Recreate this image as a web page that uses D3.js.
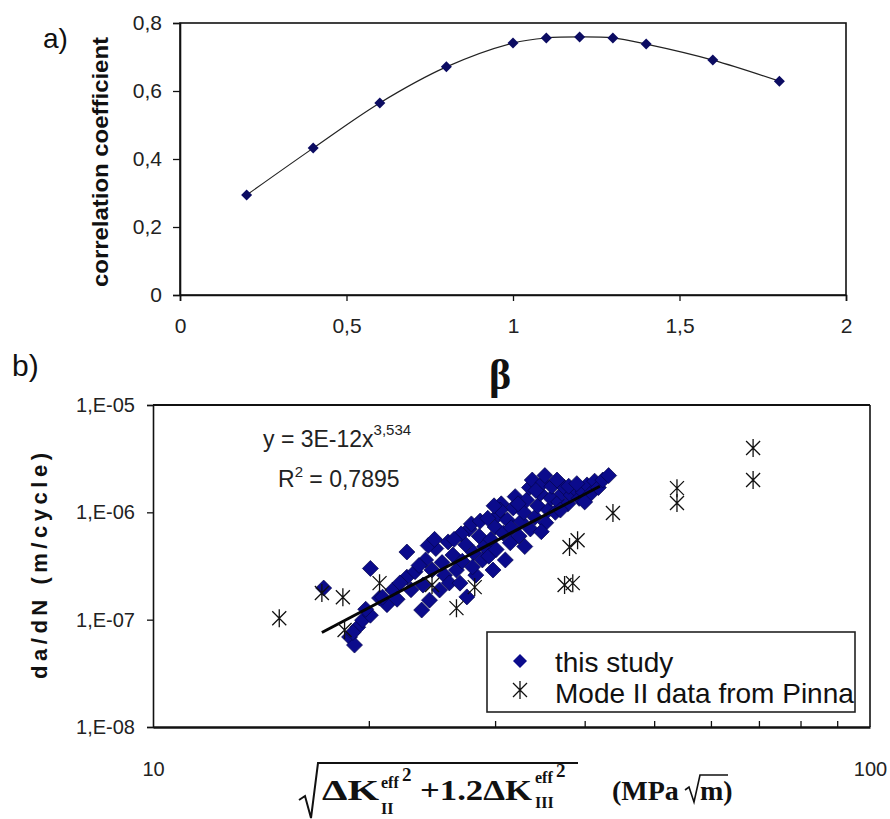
<!DOCTYPE html>
<html>
<head>
<meta charset="utf-8">
<script src="https://cdn.jsdelivr.net/npm/d3@7"></script>
<style>
  body { margin: 0; background: #fff; }
  svg { display: block; }
</style>
</head>
<body>
<script>
// a) correlation coefficient vs beta
var betaValues = [0.2, 0.4, 0.6, 0.8, 1.0, 1.1, 1.2, 1.3, 1.4, 1.6, 1.8];
var corrValues = [0.294, 0.432, 0.565, 0.671, 0.741, 0.756, 0.759, 0.756, 0.738, 0.691, 0.629];
var betaTicks = [0, 0.5, 1, 1.5, 2];
var corrTicks = [0, 0.2, 0.4, 0.6, 0.8];

// b) da/dN vs effective delta K  [K (MPa sqrt m), da/dN (m/cycle)]
var studyData = [
  [17.3, 1.97e-7], [18.8, 6.9e-8], [19.1, 5.8e-8], [19.3, 8.5e-8], [19.6, 9.9e-8],
  [19.0, 7.6e-8], [20.1, 1.1e-7], [20.1, 3.0e-7], [19.8, 1.25e-7],
  [20.7, 1.59e-7], [21.2, 1.38e-7], [20.9, 1.62e-7], [21.6, 1.89e-7], [22.6, 2.49e-7],
  [22.6, 4.27e-7], [22.1, 2.2e-7], [21.9, 1.55e-7], [22.9, 1.9e-7], [23.2, 2.8e-7],
  [23.7, 1.23e-7], [24.3, 1.52e-7], [23.8, 2.1e-7], [25.1, 1.89e-7], [25.5, 2.6e-7],
  [24.0, 3.6e-7], [24.5, 2.9e-7], [24.8, 4.6e-7], [25.3, 3.4e-7], [25.8, 5.3e-7],
  [24.2, 4.9e-7], [25.9, 2.2e-7], [26.2, 4.0e-7], [23.5, 3.2e-7], [24.7, 5.6e-7],
  [26.5, 2.9e-7], [26.8, 2.19e-7], [27.4, 1.63e-7], [27.0, 3.5e-7], [27.3, 5.0e-7],
  [27.6, 7.0e-7], [28.0, 4.2e-7], [28.2, 2.6e-7], [28.5, 6.0e-7], [28.8, 3.6e-7],
  [26.9, 6.3e-7], [27.8, 7.8e-7], [28.6, 8.3e-7], [29.0, 4.8e-7], [26.3, 5.6e-7],
  [27.9, 3.1e-7],
  [29.8, 2.9e-7], [29.4, 3.9e-7], [29.6, 5.6e-7], [30.0, 7.3e-7], [30.3, 9.5e-7],
  [30.6, 1.2e-6], [30.1, 4.5e-7], [30.8, 6.4e-7], [31.2, 8.5e-7], [31.5, 5.2e-7],
  [31.0, 3.6e-7], [31.8, 1.1e-6], [29.3, 8.8e-7], [30.5, 1.05e-6], [31.6, 7.2e-7],
  [32.0, 1.4e-6], [29.9, 1.15e-6],
  [32.4, 6.0e-7], [32.6, 8.2e-7], [32.9, 1.0e-6], [33.2, 1.3e-6], [33.5, 1.7e-6],
  [33.8, 2.0e-6], [33.0, 4.8e-7], [33.6, 7.0e-7], [34.1, 9.0e-7], [34.4, 1.15e-6],
  [34.7, 1.5e-6], [35.0, 1.9e-6], [35.3, 8.0e-7], [35.6, 1.05e-6], [35.9, 1.35e-6],
  [34.2, 1.6e-6], [32.3, 1.2e-6], [35.2, 2.2e-6], [36.0, 1.75e-6], [34.8, 6.6e-7],
  [36.4, 1.0e-6], [36.8, 1.25e-6], [37.2, 1.5e-6], [37.5, 1.7e-6], [37.9, 1.2e-6],
  [38.3, 1.45e-6], [38.8, 1.65e-6], [39.3, 1.35e-6], [39.8, 1.55e-6], [40.3, 1.8e-6],
  [40.8, 1.5e-6], [41.3, 1.95e-6], [41.8, 1.7e-6], [42.4, 2.0e-6], [43.2, 2.2e-6],
  [36.6, 2.0e-6], [38.0, 1.75e-6], [39.0, 1.85e-6], [37.0, 1.05e-6], [40.0, 1.25e-6]
];
var pinnaData = [
  [15.0, 1.03e-7], [17.2, 1.77e-7], [18.4, 1.62e-7], [18.5, 8.0e-8], [20.7, 2.19e-7],
  [24.5, 2.1e-7], [26.5, 1.28e-7], [28.1, 2.01e-7], [37.5, 2.1e-7], [38.5, 2.19e-7],
  [38.1, 4.75e-7], [39.1, 5.5e-7], [43.8, 9.85e-7], [53.8, 1.68e-6], [53.8, 1.22e-6],
  [68.7, 3.97e-6], [68.7, 2.0e-6]
];
var trendK = [17.2, 42.0];
var trendRate = [7.6e-8, 1.75e-6];
var rateTicks = [1e-8, 1e-7, 1e-6, 1e-5];
var rateLabels = ["1,E-08", "1,E-07", "1,E-06", "1,E-05"];
var kTicks = [10, 100];
var kMinorTicks = [20, 30, 40, 50, 60, 70, 80, 90];

var sans = "'Liberation Sans', Arial, sans-serif";
var serif = "'Liberation Serif', 'Times New Roman', serif";

var svg = d3.select("body").append("svg")
    .attr("width", 890)
    .attr("height", 819);

svg.append("rect").attr("width", 890).attr("height", 819).attr("fill", "#fff");

function diamond(r) {
  return "M0," + (-r) + "L" + r + ",0L0," + r + "L" + (-r) + ",0Z";
}
var starPath = "M0,-9V9M-7,-7L7,7M-7,7L7,-7";

function comma(d) { return String(d).replace(".", ","); }

// ---------- chart a ----------
var xA = d3.scaleLinear().domain([0, 2]).range([180, 846]);
var yA = d3.scaleLinear().domain([0, 0.8]).range([295, 23]);

svg.append("rect")
    .attr("x", xA(0)).attr("y", yA(0.8))
    .attr("width", xA(2) - xA(0)).attr("height", yA(0) - yA(0.8))
    .attr("fill", "none").attr("stroke", "#111").attr("stroke-width", 1.6);

var axA = svg.append("g")
    .attr("transform", "translate(0," + yA(0) + ")")
    .call(d3.axisBottom(xA).tickValues(betaTicks).tickSize(6).tickPadding(17).tickFormat(comma));
var ayA = svg.append("g")
    .attr("transform", "translate(" + xA(0) + ",0)")
    .call(d3.axisLeft(yA).tickValues(corrTicks).tickSize(7).tickPadding(11).tickFormat(comma));

[axA, ayA].forEach(function(g) {
  g.select(".domain").attr("stroke", "#111").attr("stroke-width", 1.6);
  g.selectAll(".tick line").attr("stroke", "#111").attr("stroke-width", 1.3);
  g.selectAll(".tick text").attr("font-family", sans).attr("font-size", 21).attr("fill", "#222");
});

var lineA = d3.line()
    .x(function(d, i) { return xA(betaValues[i]); })
    .y(function(d) { return yA(d); })
    .curve(d3.curveCatmullRom);

svg.append("path")
    .attr("d", lineA(corrValues))
    .attr("fill", "none")
    .attr("stroke", "#222")
    .attr("stroke-width", 1.2);

svg.selectAll(".ptA")
    .data(corrValues)
  .enter().append("path")
    .attr("class", "ptA")
    .attr("d", diamond(5.5))
    .attr("transform", function(d, i) { return "translate(" + xA(betaValues[i]) + "," + yA(d) + ")"; })
    .attr("fill", "#0c0c62");

svg.append("text")
    .attr("transform", "translate(108,162) rotate(-90)")
    .attr("text-anchor", "middle")
    .attr("font-family", sans).attr("font-weight", "bold").attr("font-size", 22)
    .attr("textLength", 250).attr("lengthAdjust", "spacingAndGlyphs")
    .attr("fill", "#111")
    .text("correlation coefficient");

svg.append("text")
    .attr("x", 43).attr("y", 48)
    .attr("font-family", sans).attr("font-size", 28).attr("fill", "#111")
    .text("a)");

svg.append("text")
    .attr("x", 500).attr("y", 389)
    .attr("text-anchor", "middle")
    .attr("font-family", serif).attr("font-weight", "bold").attr("font-size", 42)
    .attr("fill", "#111")
    .text("β");

// ---------- chart b ----------
var xB = d3.scaleLog().domain([10, 100]).range([153, 870]);
var yB = d3.scaleLog().domain([1e-8, 1e-5]).range([727, 405]);

svg.append("text")
    .attr("x", 12).attr("y", 376)
    .attr("font-family", sans).attr("font-size", 30).attr("fill", "#111")
    .text("b)");

// frame top / right
svg.append("line")
    .attr("x1", xB(10)).attr("x2", xB(100)).attr("y1", yB(1e-5)).attr("y2", yB(1e-5))
    .attr("stroke", "#111").attr("stroke-width", 2.2);
svg.append("line")
    .attr("x1", xB(100)).attr("x2", xB(100)).attr("y1", yB(1e-5)).attr("y2", yB(1e-8))
    .attr("stroke", "#111").attr("stroke-width", 1.6);

var ayB = svg.append("g")
    .attr("transform", "translate(" + xB(10) + ",0)")
    .call(d3.axisLeft(yB).tickValues(rateTicks).tickSize(6).tickPadding(12)
      .tickFormat(function(d, i) { return rateLabels[i]; }));
ayB.select(".domain").attr("stroke", "#111").attr("stroke-width", 1.6);
ayB.selectAll(".tick line").attr("stroke", "#111").attr("stroke-width", 1.3);
ayB.selectAll(".tick text").attr("font-family", sans).attr("font-size", 20).attr("fill", "#222");

var minorB = svg.append("g")
    .attr("transform", "translate(0," + yB(1e-8) + ")")
    .call(d3.axisBottom(xB).tickValues(kMinorTicks).tickSizeInner(-6).tickSizeOuter(0).tickFormat(""));
minorB.select(".domain").remove();
minorB.selectAll(".tick line").attr("stroke", "#111").attr("stroke-width", 1.3);

var axB = svg.append("g")
    .attr("transform", "translate(0," + yB(1e-8) + ")")
    .call(d3.axisBottom(xB).tickValues(kTicks).tickSize(0).tickPadding(35)
      .tickFormat(function(d) { return String(d); }));
axB.select(".domain").attr("stroke", "#111").attr("stroke-width", 2.6);
axB.selectAll(".tick text").attr("font-family", sans).attr("font-size", 20).attr("fill", "#222");

// this study points
svg.selectAll(".study")
    .data(studyData)
  .enter().append("path")
    .attr("class", "study")
    .attr("d", diamond(8))
    .attr("transform", function(d) { return "translate(" + xB(d[0]) + "," + yB(d[1]) + ")"; })
    .attr("fill", "#0b0b8c")
    .attr("stroke", "#05054a")
    .attr("stroke-width", 0.7);

// power trend line
svg.append("line")
    .attr("x1", xB(trendK[0])).attr("y1", yB(trendRate[0]))
    .attr("x2", xB(trendK[1])).attr("y2", yB(trendRate[1]))
    .attr("stroke", "#050505").attr("stroke-width", 3);

// Pinna points
svg.selectAll(".pinna")
    .data(pinnaData)
  .enter().append("path")
    .attr("class", "pinna")
    .attr("d", starPath)
    .attr("transform", function(d) { return "translate(" + xB(d[0]) + "," + yB(d[1]) + ")"; })
    .attr("fill", "none")
    .attr("stroke", "#111")
    .attr("stroke-width", 1.3);

// equation
var eq = svg.append("text")
    .attr("x", 263).attr("y", 447)
    .attr("font-family", sans).attr("font-size", 23).attr("fill", "#222");
eq.append("tspan").text("y = 3E-12x");
eq.append("tspan").attr("font-size", 15).attr("dy", -12).text("3,534");

var r2 = svg.append("text")
    .attr("x", 278).attr("y", 487)
    .attr("font-family", sans).attr("font-size", 23).attr("fill", "#222");
r2.append("tspan").text("R");
r2.append("tspan").attr("font-size", 15).attr("dy", -10).text("2");
r2.append("tspan").attr("dy", 10).text(" = 0,7895");

// legend
var leg = svg.append("g");
leg.append("rect")
    .attr("x", 487).attr("y", 632).attr("width", 368).attr("height", 80)
    .attr("fill", "#fff").attr("stroke", "#222").attr("stroke-width", 1.6);
leg.append("path")
    .attr("d", diamond(7))
    .attr("transform", "translate(520,661)")
    .attr("fill", "#0b0b8c");
leg.append("path")
    .attr("d", starPath)
    .attr("transform", "translate(520,690)")
    .attr("fill", "none").attr("stroke", "#111").attr("stroke-width", 1.3);
leg.append("text")
    .attr("x", 555).attr("y", 672)
    .attr("font-family", sans).attr("font-size", 28).attr("fill", "#111")
    .text("this study");
leg.append("text")
    .attr("x", 555).attr("y", 703)
    .attr("font-family", sans).attr("font-size", 28).attr("fill", "#111")
    .text("Mode II data from Pinna");

// y title
svg.append("text")
    .attr("transform", "translate(47,566) rotate(-90)")
    .attr("text-anchor", "middle")
    .attr("font-family", sans).attr("font-weight", "bold").attr("font-size", 22)
    .attr("textLength", 226).attr("lengthAdjust", "spacing")
    .attr("fill", "#111")
    .text("da/dN (m/cycle)");

// x title
var xt = svg.append("g")
    .attr("font-family", serif).attr("font-weight", "bold").attr("fill", "#111");
xt.append("path")
    .attr("d", "M299,800L305,796L311,818L318,763H578")
    .attr("fill", "none").attr("stroke", "#111").attr("stroke-width", 2);
xt.append("text").attr("x", 322).attr("y", 800).attr("font-size", 30)
    .attr("textLength", 57).attr("lengthAdjust", "spacingAndGlyphs").text("ΔK");
xt.append("text").attr("x", 381).attr("y", 814).attr("font-size", 16).text("II");
xt.append("text").attr("x", 381).attr("y", 788).attr("font-size", 16).text("eff");
xt.append("text").attr("x", 402).attr("y", 781).attr("font-size", 19).text("2");
xt.append("text").attr("x", 420).attr("y", 800).attr("font-size", 30)
    .attr("textLength", 112).attr("lengthAdjust", "spacingAndGlyphs").text("+1.2ΔK");
xt.append("text").attr("x", 535).attr("y", 808).attr("font-size", 16).text("III");
xt.append("text").attr("x", 535).attr("y", 783).attr("font-size", 16).text("eff");
xt.append("text").attr("x", 556).attr("y", 777).attr("font-size", 19).text("2");
xt.append("text").attr("x", 612).attr("y", 800).attr("font-size", 28).text("(MPa");
xt.append("path")
    .attr("d", "M685,790L689,787L694,802L700,775H728")
    .attr("fill", "none").attr("stroke", "#111").attr("stroke-width", 1.6);
xt.append("text").attr("x", 700).attr("y", 800).attr("font-size", 28).text("m)");
</script>
</body>
</html>
